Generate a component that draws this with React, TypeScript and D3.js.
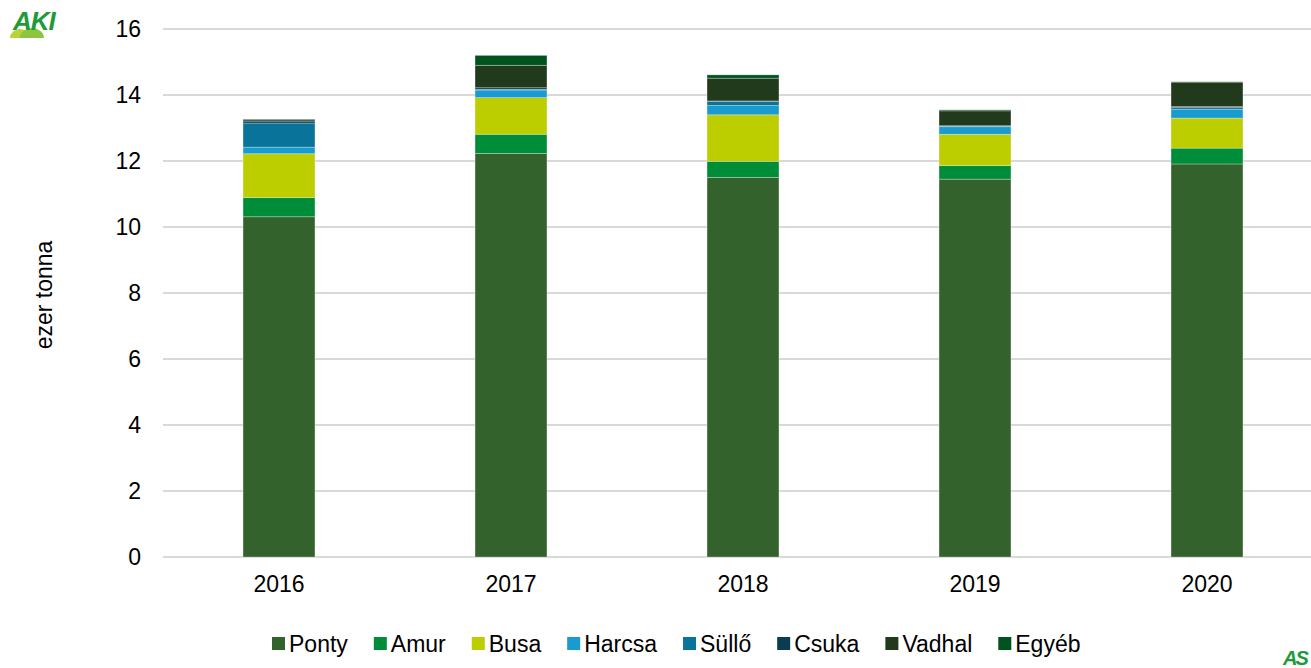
import * as d3 from "d3";

const years = ["2016", "2017", "2018", "2019", "2020"];
const species = ["Ponty", "Amur", "Busa", "Harcsa", "Süllő", "Csuka", "Vadhal", "Egyéb"];
const colors = ["#34622d", "#008d3a", "#bccd00", "#1a9bcf", "#0a7399", "#0c3c52", "#213a1c", "#00531f"];

// ezer tonna, per year in species order
const ponty = [10.31, 12.23, 11.5, 11.45, 11.91];
const amur = [0.58, 0.58, 0.49, 0.41, 0.48];
const busa = [1.33, 1.11, 1.41, 0.95, 0.91];
const harcsa = [0.2, 0.23, 0.28, 0.23, 0.27];
const sullo = [0.73, 0.02, 0.12, 0.02, 0.05];
const csuka = [0.06, 0.05, 0.02, 0.01, 0.03];
const vadhal = [0.04, 0.68, 0.69, 0.45, 0.74];
const egyeb = [0.02, 0.3, 0.1, 0.03, 0.01];

const yTicks = [0, 2, 4, 6, 8, 10, 12, 14, 16];

const font = "'Liberation Sans', Arial, sans-serif";

function textWidth(s: string, size: number) {
  const c = document.createElement("canvas").getContext("2d");
  if (!c) return s.length * size * 0.55;
  c.font = `${size}px ${font}`;
  return c.measureText(s).width;
}

export default function App() {
  const width = 1311;
  const height = 668;
  const left = 163;
  const top = 29;
  const bottom = 557;
  const fs = 23;

  const rows = years.map((year, i) => {
    const r: any = { year };
    [ponty, amur, busa, harcsa, sullo, csuka, vadhal, egyeb].forEach((arr, k) => {
      r[species[k]] = arr[i];
    });
    return r;
  });

  const stacked = d3.stack().keys(species)(rows);

  const x = d3.scaleBand().domain(years).range([left, left + 232 * 5]).paddingInner(0.69).paddingOuter(0.345);
  const y = d3.scaleLinear().domain([0, 16]).range([bottom, top]);

  // legend layout
  let lx = 272;
  const legend = species.map((s, i) => {
    const item = { s, x: lx, c: colors[i] };
    lx += 17 + textWidth(s, fs) + 26;
    return item;
  });

  return (
    <div style={{ position: "absolute", left: 0, top: 0 }}>
      <svg width={width} height={height} style={{ display: "block", background: "#fff" }} fontFamily={font}>
        {/* AKI logo */}
        <g>
          <path d="M10,38 a10,9 0 0 1 20,0 z" fill="#b6d33a" />
          <path d="M20,38 a12,10 0 0 1 24,0 z" fill="#8cc63f" />
          <text x={13} y={30} fontSize={26} fontWeight="bold" fill="#1e9a3a" fontStyle="italic" letterSpacing={-1}>AKI</text>
        </g>

        {yTicks.map((t) => (
          <g key={t}>
            <line x1={left} x2={width} y1={y(t)} y2={y(t)} stroke="#d9d9d9" strokeWidth={2} />
            <text x={141} y={y(t)} textAnchor="end" dominantBaseline="central" fontSize={fs} fill="#000">{t}</text>
          </g>
        ))}

        {stacked.map((layer, k) => (
          <g key={layer.key} fill={colors[k]}>
            {layer.map((d, i) => (
              <rect
                key={i}
                x={x(years[i])}
                width={x.bandwidth()}
                y={y(d[1])}
                height={Math.max(0, y(d[0]) - y(d[1]))}
                stroke="#ffffff"
                strokeOpacity={0.35}
                strokeWidth={0.8}
              />
            ))}
          </g>
        ))}

        {years.map((yr) => (
          <text key={yr} x={(x(yr) ?? 0) + x.bandwidth() / 2} y={584} textAnchor="middle" dominantBaseline="central" fontSize={fs} fill="#000">{yr}</text>
        ))}

        <text transform={`translate(44,295) rotate(-90)`} textAnchor="middle" dominantBaseline="central" fontSize={fs} fill="#000">ezer tonna</text>

        {legend.map((l) => (
          <g key={l.s}>
            <rect x={l.x} y={637} width={13} height={13} fill={l.c} />
            <text x={l.x + 17} y={652} fontSize={fs} fill="#000">{l.s}</text>
          </g>
        ))}

        {/* AS logo */}
        <text x={1283} y={665} fontSize={20} fontWeight="bold" fontStyle="italic" fill="#1e9a3a" letterSpacing={-2}>AS</text>
      </svg>
    </div>
  );
}
